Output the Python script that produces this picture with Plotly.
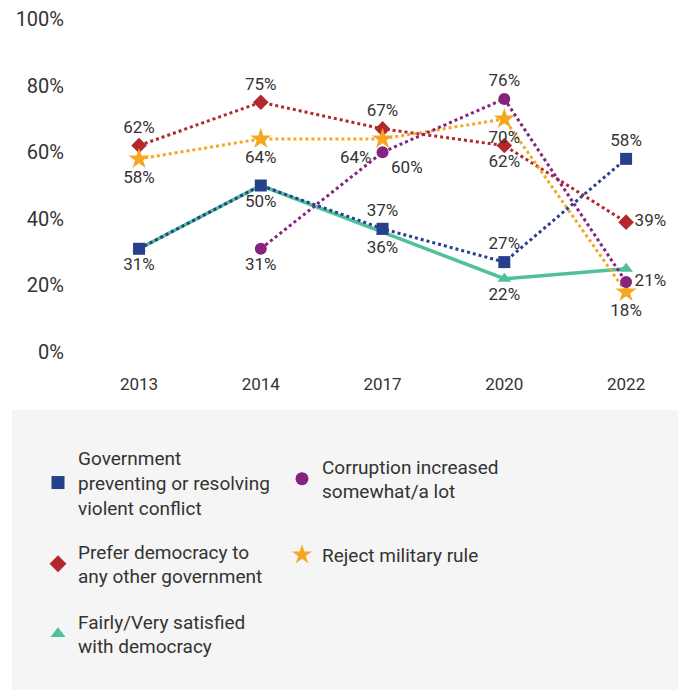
import plotly.graph_objects as go

years = ["2013", "2014", "2017", "2020", "2022"]
y_ticks = [0, 20, 40, 60, 80, 100]
y_tick_labels = ["0%", "20%", "40%", "60%", "80%", "100%"]

gov_vals = [31, 50, 37, 27, 58]
gov_pos = ["bottom center", "bottom center", "top center", "top center", "top center"]
gov_lbl = ["31%", "50%", "37%", "27%", "58%"]

corr_vals = [None, 31, 60, 76, 21]
corr_pos = ["bottom center", "bottom center", "bottom right", "top center", "middle right"]
corr_lbl = ["", "31%", "60%", "76%", "21%"]

pref_vals = [62, 75, 67, 62, 39]
pref_pos = ["top center", "top center", "top center", "bottom center", "middle right"]
pref_lbl = ["62%", "75%", "67%", "62%", "39%"]

rej_vals = [58, 64, 64, 70, 18]
rej_pos = ["bottom center", "bottom center", "bottom left", "bottom center", "bottom center"]
rej_lbl = ["58%", "64%", "64%", "70%", "18%"]

sat_vals = [31, 50, 36, 22, 25]
sat_pos = ["bottom center", "bottom center", "bottom center", "bottom center", "bottom center"]
sat_lbl = ["", "", "36%", "22%", ""]

names = {
    "gov": "Government<br>preventing or resolving<br>violent conflict",
    "corr": "Corruption increased<br>somewhat/a lot",
    "pref": "Prefer democracy to<br>any other government",
    "rej": "Reject military rule",
    "sat": "Fairly/Very satisfied<br>with democracy",
}
colors = {
    "gov": "#26408b",
    "corr": "#85237e",
    "pref": "#b3282d",
    "rej": "#f6a722",
    "sat": "#4fc09a",
}
symbols = {"gov": "square", "corr": "circle", "pref": "diamond", "rej": "star", "sat": "triangle-up"}
msize = {"gov": 12, "corr": 12, "pref": 12, "rej": 16, "sat": 12}

series = [
    ("sat", sat_vals, sat_lbl, sat_pos, "solid", 3.5),
    ("pref", pref_vals, pref_lbl, pref_pos, "dot", 3),
    ("rej", rej_vals, rej_lbl, rej_pos, "dot", 3),
    ("corr", corr_vals, corr_lbl, corr_pos, "dot", 3),
    ("gov", gov_vals, gov_lbl, gov_pos, "dot", 3),
]

fig = go.Figure()
for key, vals, lbl, pos, dash, lw in series:
    fig.add_trace(go.Scatter(
        x=years, y=vals, mode="lines+markers+text",
        text=lbl, textposition=pos,
        textfont=dict(family="Roboto", size=17, color="#333333"),
        line=dict(color=colors[key], dash=dash, width=lw),
        marker=dict(color=colors[key], symbol=symbols[key], size=msize[key]),
        cliponaxis=False, showlegend=False, connectgaps=False,
    ))

# page has an 8px body margin; plot area on screen: x 75..676, y 19..352
def px_x(p):
    return (p - 75) / 601.0

def px_y(p):
    return (352 - p) / 333.0

legend_spec = {
    "gov": ("legend", 38, 483),
    "corr": ("legend2", 282, 479),
    "pref": ("legend3", 38, 564),
    "rej": ("legend4", 282, 555),
    "sat": ("legend5", 38, 634),
}

legend_font = dict(family="Roboto", size=19, color="#333333")
legend_layouts = {}
for key in ["gov", "corr", "pref", "rej", "sat"]:
    lname, lx, ly = legend_spec[key]
    fig.add_trace(go.Scatter(
        x=[None], y=[None], mode="markers", name=names[key], legend=lname,
        marker=dict(color=colors[key], symbol=symbols[key], size=15 if key == "rej" else 13),
    ))
    legend_layouts[lname] = dict(
        x=px_x(lx), xanchor="left", y=px_y(ly), yanchor="middle",
        bgcolor="rgba(0,0,0,0)", valign="middle", font=legend_font,
        itemsizing="trace", borderwidth=0,
    )

fig.add_shape(type="rect", xref="paper", yref="paper",
              x0=px_x(12), x1=px_x(700), y0=px_y(700), y1=px_y(410),
              fillcolor="#f5f5f5", line=dict(width=0), layer="below")

fig.update_layout(
    width=686, height=690,
    margin=dict(l=67, r=18, t=11, b=346, autoexpand=False),
    paper_bgcolor="white", plot_bgcolor="white",
    font=dict(family="Roboto", color="#333333"),
    showlegend=True,
    xaxis=dict(type="category", range=[-0.526, 4.41], showgrid=False, zeroline=False,
               showline=False, ticks="", tickfont=dict(size=17, color="#333333"),
               ticklabelstandoff=20, automargin=False, ticklabeloverflow="allow"),
    yaxis=dict(range=[0, 100], tickmode="array", tickvals=y_ticks, ticktext=y_tick_labels,
               showgrid=False, zeroline=False, showline=False, ticks="",
               tickfont=dict(size=20, color="#333333"), ticklabelstandoff=10,
               automargin=False, ticklabeloverflow="allow"),
    **legend_layouts,
)

fig.write_html("out.html")
